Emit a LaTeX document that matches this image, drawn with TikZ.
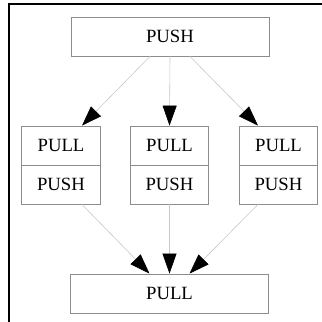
\documentclass[tikz,border=0pt]{standalone}
\usepackage{fontspec}
\setmainfont{Liberation Serif}
\usetikzlibrary{arrows.meta}
\definecolor{boxgray}{HTML}{8C8C8C}
\definecolor{edgegray}{HTML}{C8C8C8}
\begin{document}
\begin{tikzpicture}[x=1pt,y=-1pt,
  box/.style={draw=boxgray,line width=0.8pt,rectangle,inner sep=0pt,font=\fontsize{18.7}{22}\selectfont},
  wide/.style={box,minimum width=198pt,minimum height=39pt},
  cell/.style={box,minimum width=78.5pt,minimum height=39pt},
  edge/.style={draw=edgegray,line width=0.6pt,-{Triangle[length=20pt,width=14pt,fill=black,color=black]}}]
\useasboundingbox (0,0) rectangle (322,322);
\draw[line width=2pt] (322,4) -- (9,4) -- (9,322);
\node[wide] (top) at (170,36.5) {PUSH};
\node[cell] (a1) at (61,145.5) {PULL};
\node[cell] (a2) at (61,184.5) {PUSH};
\node[cell] (b1) at (169.5,145.5) {PULL};
\node[cell] (b2) at (169.5,184.5) {PUSH};
\node[cell] (c1) at (278.5,145.5) {PULL};
\node[cell] (c2) at (278.5,184.5) {PUSH};
\node[wide] (bot) at (169.5,293.5) {PULL};
\draw[edge] ([xshift=-20pt]top.south) -- ([xshift=21pt]a1.north);
\draw[edge] (top.south) -- (b1.north);
\draw[edge] ([xshift=20pt]top.south) -- ([xshift=-20.5pt]c1.north);
\draw[edge] ([xshift=21pt]a2.south) -- ([xshift=-20pt]bot.north);
\draw[edge] (b2.south) -- (bot.north);
\draw[edge] ([xshift=-20.5pt]c2.south) -- ([xshift=20pt]bot.north);
\end{tikzpicture}
\end{document}
